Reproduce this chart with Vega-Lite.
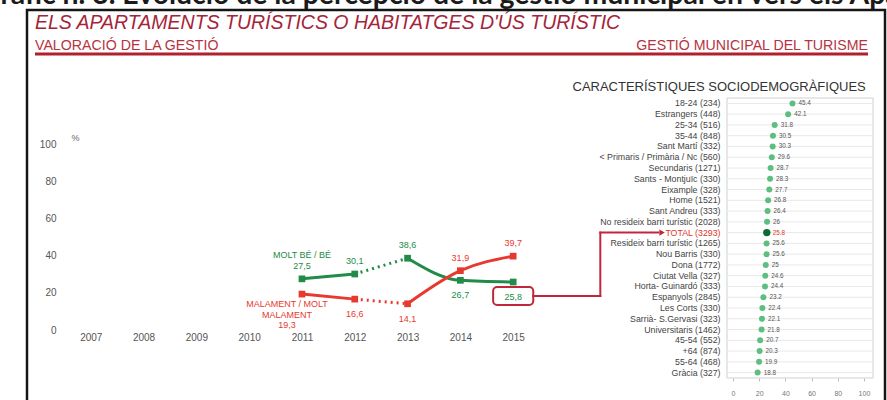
{
  "$schema": "https://vega.github.io/schema/vega-lite/v6.json",
  "width": 858,
  "height": 393,
  "autosize": "none",
  "padding": {"left": 27, "top": 10, "right": 2, "bottom": -3},
  "title": {
    "text": "Gràfic n. 3. Evolució de la percepció de la gestió municipal en vers els Apartaments turístics",
    "anchor": "start",
    "frame": "group",
    "orient": "top",
    "offset": -22.5,
    "baseline": "alphabetic",
    "font": "Lato",
    "fontSize": 28.4,
    "fontWeight": "bold",
    "color": "#1a1a1a",
    "dx": -47
  },
  "config": {
    "font": "Liberation Sans",
    "view": {"stroke": "#151515", "strokeWidth": 2.5},
    "locale": {"number": {"decimal": ",", "thousands": ".", "grouping": [3], "currency": ["", " €"]}}
  },
  "resolve": {"scale": {"x": "independent", "y": "independent"}},
  "layer": [
    {
      "data": {"values": [
        {"pos": "start", "row": "title", "role": "title", "text": "ELS APARTAMENTS TURÍSTICS O HABITATGES D'ÚS TURÍSTIC"},
        {"pos": "start", "row": "line", "role": "left", "text": "VALORACIÓ DE LA GESTIÓ"},
        {"pos": "end", "row": "line", "role": "right", "text": "GESTIÓ MUNICIPAL DEL TURISME"}
      ]},
      "encoding": {
        "x": {"field": "pos", "type": "nominal", "scale": {"type": "point", "domain": ["start", "end"], "range": [8, 841], "padding": 0}, "axis": null},
        "y": {"field": "row", "type": "nominal", "scale": {"type": "point", "domain": ["title", "line"], "range": [19, 44], "padding": 0}, "axis": null}
      },
      "layer": [
        {
          "transform": [{"filter": "datum.role === 'title'"}],
          "mark": {"type": "text", "align": "left", "baseline": "alphabetic", "fontStyle": "italic", "fontSize": 19.5, "color": "#a5243a"},
          "encoding": {"text": {"field": "text"}}
        },
        {
          "transform": [{"filter": "datum.role === 'left'"}],
          "mark": {"type": "text", "align": "left", "baseline": "alphabetic", "dy": -4, "fontSize": 14.2, "color": "#b73340"},
          "encoding": {"text": {"field": "text"}}
        },
        {
          "transform": [{"filter": "datum.role === 'right'"}],
          "mark": {"type": "text", "align": "right", "baseline": "alphabetic", "dy": -4, "fontSize": 14.2, "color": "#b73340"},
          "encoding": {"text": {"field": "text"}}
        },
        {
          "transform": [{"filter": "datum.role === 'left'"}],
          "mark": {"type": "rule", "color": "#b21f2d", "strokeWidth": 3},
          "encoding": {"x": {"datum": "start"}, "x2": {"datum": "end"}, "y": {"datum": "line"}}
        }
      ]
    },
    {
      "data": {"values": [
        {"series": "MOLT BÉ / BÉ", "year": 2011, "value": 27.5},
        {"series": "MOLT BÉ / BÉ", "year": 2012, "value": 30.1},
        {"series": "MOLT BÉ / BÉ", "year": 2013, "value": 38.6},
        {"series": "MOLT BÉ / BÉ", "year": 2014, "value": 26.7},
        {"series": "MOLT BÉ / BÉ", "year": 2015, "value": 25.8},
        {"series": "MALAMENT / MOLT\nMALAMENT", "year": 2011, "value": 19.3},
        {"series": "MALAMENT / MOLT\nMALAMENT", "year": 2012, "value": 16.6},
        {"series": "MALAMENT / MOLT\nMALAMENT", "year": 2013, "value": 14.1},
        {"series": "MALAMENT / MOLT\nMALAMENT", "year": 2014, "value": 31.9},
        {"series": "MALAMENT / MOLT\nMALAMENT", "year": 2015, "value": 39.7}
      ]},
      "encoding": {
        "x": {
          "field": "year", "type": "quantitative",
          "scale": {"domain": [2006.55, 2015.47], "range": [40, 511], "nice": false, "zero": false},
          "axis": {"orient": "bottom", "offset": -73, "values": [2007, 2008, 2009, 2010, 2011, 2012, 2013, 2014, 2015], "format": "d", "grid": false, "domain": false, "ticks": false, "labelPadding": 2, "labelFontSize": 10, "labelColor": "#555", "labelFlush": false, "labelOverlap": false, "title": null}
        },
        "y": {
          "field": "value", "type": "quantitative",
          "scale": {"domain": [0, 100], "range": [320, 134], "nice": false, "zero": false},
          "axis": {"orient": "left", "offset": -34, "values": [0, 20, 40, 60, 80, 100], "grid": false, "domain": false, "ticks": false, "labelPadding": 5, "labelFontSize": 10, "labelColor": "#555", "title": "%", "titleAngle": 0, "titleX": 14, "titleY": 127, "titleAlign": "center", "titleBaseline": "middle", "titleFontSize": 9, "titleFontWeight": "normal", "titleColor": "#666"}
        }
      },
      "layer": [
        {
          "data": {"values": [{"value": 0}, {"value": 20}, {"value": 40}, {"value": 60}, {"value": 80}, {"value": 100}]},
          "mark": {"type": "rule", "color": "#e6e6e6", "strokeWidth": 1.3},
          "encoding": {"x": {"datum": 2006.55}, "x2": {"datum": 2015.47}}
        },
        {
          "transform": [{"filter": "datum.year <= 2012"}],
          "mark": {"type": "line", "strokeWidth": 3},
          "encoding": {"color": {"field": "series", "type": "nominal", "scale": {"domain": ["MOLT BÉ / BÉ", "MALAMENT / MOLT\nMALAMENT"], "range": ["#218b47", "#e8392e"]}, "legend": null}}
        },
        {
          "transform": [{"filter": "datum.year >= 2012 && datum.year <= 2013"}],
          "mark": {"type": "line", "strokeWidth": 3, "strokeDash": [2, 4]},
          "encoding": {"color": {"field": "series", "type": "nominal", "legend": null}}
        },
        {
          "transform": [{"filter": "datum.year >= 2013"}],
          "mark": {"type": "line", "strokeWidth": 3, "interpolate": "monotone"},
          "encoding": {"color": {"field": "series", "type": "nominal", "legend": null}}
        },
        {
          "mark": {"type": "point", "shape": "square", "filled": true, "opacity": 1, "size": 45},
          "encoding": {"color": {"field": "series", "type": "nominal", "legend": null}}
        },
        {
          "transform": [{"filter": "datum.series === 'MOLT BÉ / BÉ' && datum.year === 2015"}],
          "mark": {"type": "rect", "fill": "white", "stroke": "#c0283a", "strokeWidth": 2, "cornerRadius": 4},
          "encoding": {"x": {"datum": 2014.62}, "x2": {"datum": 2015.38}, "y": {"datum": 13.4}, "y2": {"datum": 23.1}}
        },
        {
          "transform": [{"filter": "datum.series === 'MOLT BÉ / BÉ' && datum.year === 2015"}],
          "mark": {"type": "rule", "color": "#c0283a", "strokeWidth": 2, "strokeCap": "square"},
          "encoding": {"x": {"datum": 2015.38}, "x2": {"datum": 2016.65}, "y": {"datum": 18.3}}
        },
        {
          "transform": [{"filter": "datum.series === 'MOLT BÉ / BÉ' && datum.year === 2015"}],
          "mark": {"type": "rule", "color": "#c0283a", "strokeWidth": 2, "strokeCap": "square"},
          "encoding": {"x": {"datum": 2016.65}, "y": {"datum": 18.3}, "y2": {"datum": 52.37}}
        },
        {
          "transform": [{"filter": "datum.series === 'MOLT BÉ / BÉ' && datum.year === 2015"}],
          "mark": {"type": "rule", "color": "#c0283a", "strokeWidth": 2, "strokeCap": "square"},
          "encoding": {"x": {"datum": 2016.65}, "x2": {"datum": 2017.75}, "y": {"datum": 52.37}}
        },
        {
          "transform": [{"filter": "datum.series === 'MOLT BÉ / BÉ' && datum.year === 2015"}],
          "mark": {"type": "point", "shape": "triangle-right", "filled": true, "opacity": 1, "size": 40, "color": "#c0283a"},
          "encoding": {"x": {"datum": 2017.82}, "y": {"datum": 52.37}}
        },
        {
          "transform": [{"filter": "(datum.series === 'MOLT BÉ / BÉ' && datum.year <= 2013) || (datum.series !== 'MOLT BÉ / BÉ' && datum.year >= 2014)"}],
          "mark": {"type": "text", "fontSize": 9, "dy": -13, "baseline": "middle"},
          "encoding": {"text": {"field": "value", "type": "quantitative", "format": ".1f"}, "color": {"field": "series", "type": "nominal", "legend": null}}
        },
        {
          "transform": [{"filter": "(datum.series === 'MOLT BÉ / BÉ' && datum.year >= 2014) || (datum.series !== 'MOLT BÉ / BÉ' && datum.year >= 2012 && datum.year <= 2013)"}],
          "mark": {"type": "text", "fontSize": 9, "dy": 15, "baseline": "middle"},
          "encoding": {"text": {"field": "value", "type": "quantitative", "format": ".1f"}, "color": {"field": "series", "type": "nominal", "legend": null}}
        },
        {
          "transform": [{"filter": "datum.series !== 'MOLT BÉ / BÉ' && datum.year === 2011"}],
          "mark": {"type": "text", "fontSize": 9, "dx": -15, "dy": 31, "baseline": "middle"},
          "encoding": {"text": {"field": "value", "type": "quantitative", "format": ".1f"}, "color": {"field": "series", "type": "nominal", "legend": null}}
        },
        {
          "transform": [{"filter": "datum.series === 'MOLT BÉ / BÉ' && datum.year === 2011"}],
          "mark": {"type": "text", "fontSize": 9, "dy": -24, "baseline": "middle"},
          "encoding": {"text": {"field": "series"}, "color": {"field": "series", "type": "nominal", "legend": null}}
        },
        {
          "transform": [{"filter": "datum.series !== 'MOLT BÉ / BÉ' && datum.year === 2011"}],
          "mark": {"type": "text", "fontSize": 9, "dx": -15, "dy": 5.5, "baseline": "top", "lineBreak": "\n", "lineHeight": 11},
          "encoding": {"text": {"field": "series"}, "color": {"field": "series", "type": "nominal", "legend": null}}
        }
      ]
    },
    {
      "data": {"values": [
        {"group": "18-24 (234)", "share": 45.4},
        {"group": "Estrangers (448)", "share": 42.1},
        {"group": "25-34 (516)", "share": 31.8},
        {"group": "35-44 (848)", "share": 30.5},
        {"group": "Sant Martí (332)", "share": 30.3},
        {"group": "< Primaris / Primària / Nc (560)", "share": 29.6},
        {"group": "Secundaris (1271)", "share": 28.7},
        {"group": "Sants - Montjuïc (330)", "share": 28.3},
        {"group": "Eixample (328)", "share": 27.7},
        {"group": "Home (1521)", "share": 26.8},
        {"group": "Sant Andreu (333)", "share": 26.4},
        {"group": "No resideix barri turístic (2028)", "share": 26.0},
        {"group": "TOTAL (3293)", "share": 25.8},
        {"group": "Resideix barri turístic (1265)", "share": 25.6},
        {"group": "Nou Barris (330)", "share": 25.6},
        {"group": "Dona (1772)", "share": 25.0},
        {"group": "Ciutat Vella (327)", "share": 24.6},
        {"group": "Horta- Guinardó (333)", "share": 24.4},
        {"group": "Espanyols (2845)", "share": 23.2},
        {"group": "Les Corts (330)", "share": 22.4},
        {"group": "Sarrià- S.Gervasi (323)", "share": 22.1},
        {"group": "Universitaris (1462)", "share": 21.8},
        {"group": "45-54 (552)", "share": 20.7},
        {"group": "+64 (874)", "share": 20.3},
        {"group": "55-64 (468)", "share": 19.9},
        {"group": "Gràcia (327)", "share": 18.8}
      ]},
      "encoding": {
        "y": {
          "field": "group", "type": "nominal", "sort": null,
          "scale": {
            "type": "band", "range": [88, 368], "paddingInner": 0, "paddingOuter": 0,
            "domain": ["18-24 (234)", "Estrangers (448)", "25-34 (516)", "35-44 (848)", "Sant Martí (332)", "< Primaris / Primària / Nc (560)", "Secundaris (1271)", "Sants - Montjuïc (330)", "Eixample (328)", "Home (1521)", "Sant Andreu (333)", "No resideix barri turístic (2028)", "TOTAL (3293)", "Resideix barri turístic (1265)", "Nou Barris (330)", "Dona (1772)", "Ciutat Vella (327)", "Horta- Guinardó (333)", "Espanyols (2845)", "Les Corts (330)", "Sarrià- S.Gervasi (323)", "Universitaris (1462)", "45-54 (552)", "+64 (874)", "55-64 (468)", "Gràcia (327)"]
          },
          "axis": {"orient": "left", "offset": -700, "domain": false, "ticks": false, "labelPadding": 7, "labelFontSize": 8.8, "labelLimit": 200, "labelOverlap": false, "labelColor": {"condition": {"test": "datum.value === 'TOTAL (3293)'", "value": "#e0352b"}, "value": "#444"}, "title": "CARACTERÍSTIQUES SOCIODEMOGRÀFIQUES", "titleAngle": 0, "titleAlign": "left", "titleBaseline": "alphabetic", "titleX": -155, "titleY": 80, "titleFontSize": 13, "titleFontWeight": "normal", "titleColor": "#333"}
        },
        "x": {
          "field": "share", "type": "quantitative",
          "scale": {"domain": [-4.6, 106.9], "range": [700, 846], "nice": false, "zero": false},
          "axis": {"orient": "bottom", "offset": -25, "values": [0, 20, 40, 60, 80, 100], "grid": false, "domain": false, "tickSize": 3, "tickColor": "#bbb", "labelFontSize": 7, "labelColor": "#777", "labelPadding": 8, "labelFlush": false, "title": null}
        }
      },
      "layer": [
        {
          "transform": [{"filter": "datum.group === 'TOTAL (3293)'"}],
          "mark": {"type": "rect", "filled": false, "color": "#d0d0d0", "strokeWidth": 1},
          "encoding": {"x": {"datum": -4.6}, "x2": {"datum": 106.9}, "y": {"datum": "18-24 (234)", "bandPosition": 0}, "y2": {"datum": "Gràcia (327)", "bandPosition": 1}}
        },
        {
          "mark": {"type": "rule", "color": "#e8e8e8", "strokeWidth": 1},
          "encoding": {"x": {"datum": -4.6}, "x2": {"datum": 106.9}}
        },
        {
          "mark": {"type": "circle", "opacity": 1},
          "encoding": {
            "size": {"condition": {"test": "datum.group === 'TOTAL (3293)'", "value": 55}, "value": 36},
            "color": {"condition": {"test": "datum.group === 'TOTAL (3293)'", "value": "#0d6b30"}, "value": "#5dbf7f"}
          }
        },
        {
          "mark": {"type": "text", "align": "left", "baseline": "middle", "dx": 6, "fontSize": 6.3},
          "encoding": {
            "text": {"field": "share", "type": "nominal"},
            "color": {"condition": {"test": "datum.group === 'TOTAL (3293)'", "value": "#e0352b"}, "value": "#555"}
          }
        }
      ]
    }
  ]
}
